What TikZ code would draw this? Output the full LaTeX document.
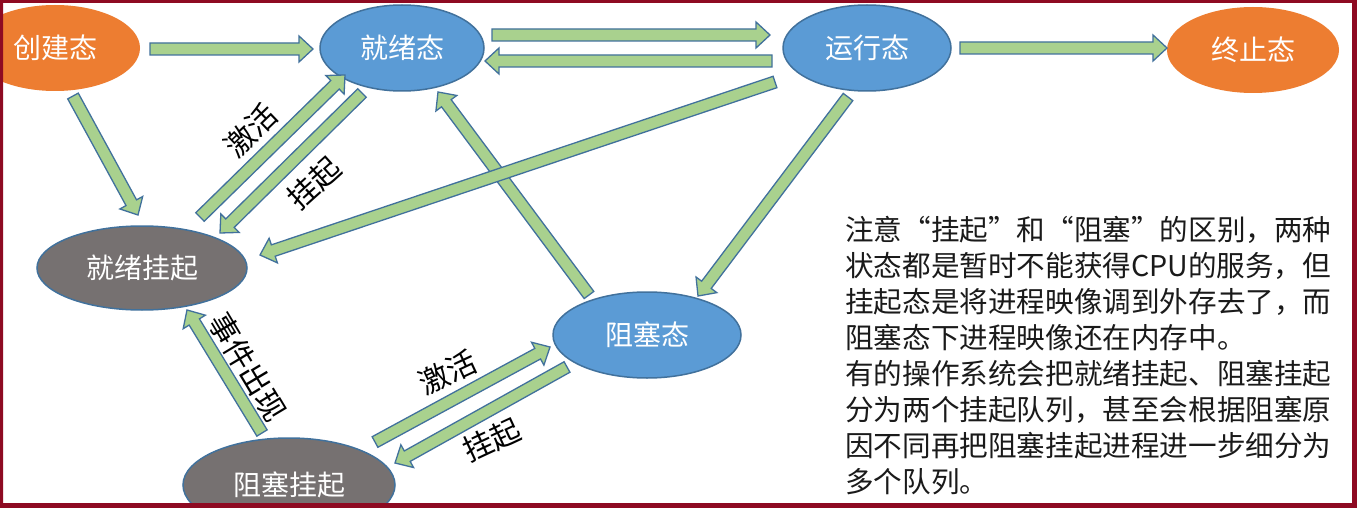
\documentclass[tikz,border=0pt]{standalone}
\usepackage{fontspec}
\setmainfont{Noto Sans CJK SC}
\usetikzlibrary{shapes.geometric,calc}
\definecolor{orng}{HTML}{ED7D31}
\definecolor{blu}{HTML}{5B9BD5}
\definecolor{bluline}{HTML}{41719C}
\definecolor{gry}{HTML}{767171}
\definecolor{grn}{HTML}{A9D18E}
\definecolor{framecol}{HTML}{8E0A22}
\definecolor{txt}{HTML}{1A1A1A}
\tikzset{
  st/.style={ellipse, inner sep=0pt, text=white, font=\fontsize{28}{30}\selectfont},
  orangest/.style={st, fill=orng},
  bluest/.style={st, fill=blu, draw=bluline, line width=1.5pt},
  grayst/.style={st, fill=gry, draw=bluline, line width=1.5pt},
  fatarrow/.style={fill=grn, draw=bluline, line width=1.3pt, line join=miter},
  lbl/.style={font=\fontsize{30}{32}\selectfont, text=black, inner sep=0pt},
}
\newcommand\barrow[4]{%
  \coordinate (bA) at ($(#1.center)+(#2)$);
  \coordinate (bB) at ($(#3.center)+(#4)$);
  \draw[fatarrow] ($(bA)!6pt!90:(bB)$) -- ($(bB)!14pt!(bA)!6pt!-90:(bA)$)
    -- ($(bB)!14pt!(bA)!13pt!-90:(bA)$) -- (bB)
    -- ($(bB)!14pt!(bA)!13pt!90:(bA)$) -- ($(bB)!14pt!(bA)!6pt!90:(bA)$)
    -- ($(bA)!6pt!-90:(bB)$) -- cycle;
}
\begin{document}
\begin{tikzpicture}[x=1pt,y=-1pt]
\useasboundingbox (0,0) rectangle (1357,508);
\fill[white] (0,0) rectangle (1357,508);
\begin{scope}
\clip (0,0) rectangle (1357,508);
\node[orangest, minimum width=170pt, minimum height=86pt] (cj) at (55,48) {创建态};
\node[bluest, minimum width=164pt, minimum height=86pt] (jx) at (402,48) {就绪态};
\node[bluest, minimum width=168pt, minimum height=86pt] (yx) at (867,48) {运行态};
\node[orangest, minimum width=172pt, minimum height=86pt] (zz) at (1253,50) {终止态};
\node[grayst, minimum width=210pt, minimum height=84pt] (jg) at (142,268) {就绪挂起};
\node[bluest, minimum width=188pt, minimum height=86pt] (zs) at (647,335) {阻塞态};
\node[grayst, minimum width=212pt, minimum height=94pt] (zg) at (289,485) {阻塞挂起};
\end{scope}
\barrow{cj}{95,1}{jx}{-89,1}
\barrow{jx}{90,-13}{yx}{-97,-13}
\barrow{yx}{-95,13}{jx}{83,13}
\barrow{cj}{18,48}{jg}{-4,-53}
\barrow{jg}{58,-51}{jx}{-57,27}
\barrow{jx}{-40,45}{jg}{78,-35}
\barrow{zs}{-58,-40}{jx}{36,44}
\barrow{yx}{-92,34}{jg}{118,-13}
\barrow{yx}{-19,49}{zs}{51,-39}
\barrow{yx}{93,0}{zz}{-86,-2}
\barrow{zg}{-27,-52}{jg}{45,42}
\barrow{zg}{86,-43}{zs}{-97,12}
\barrow{zs}{-80,32}{zg}{106,-22}
\node[lbl, rotate=44] (l1) at (251,130) {激活};
\node[lbl, rotate=42] (l2) at (314,183) {挂起};
\node[lbl, rotate=-59] (l3) at (248,367) {事件出现};
\node[lbl, rotate=25] (l4) at (448,372) {激活};
\node[lbl, rotate=25] (l5) at (492,440) {挂起};
\node[anchor=north west, inner sep=0pt, align=left, font=\fontsize{28.6}{36}\selectfont, text=txt] (note) at (845,216)
 {注意“挂起”和“阻塞”的区别，两种\\
  状态都是暂时不能获得CPU的服务，但\\
  挂起态是将进程映像调到外存去了，而\\
  阻塞态下进程映像还在内存中。\\
  有的操作系统会把就绪挂起、阻塞挂起\\
  分为两个挂起队列，甚至会根据阻塞原\\
  因不同再把阻塞挂起进程进一步细分为\\
  多个队列。};
\fill[framecol, even odd rule] (0,0) rectangle (1357,508) (3,3) rectangle (1352,503);
\end{tikzpicture}
\end{document}
